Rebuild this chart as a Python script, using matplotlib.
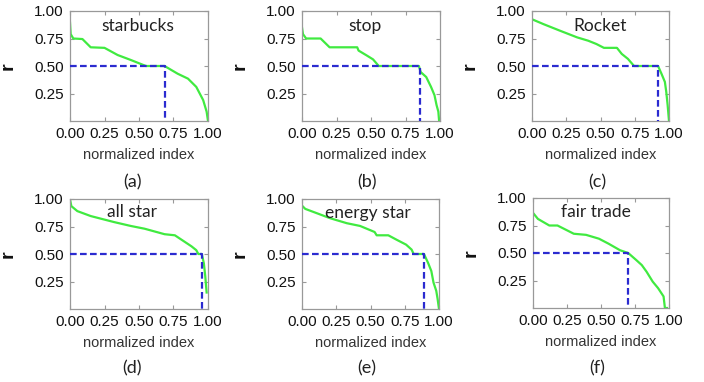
import matplotlib
matplotlib.use("Agg")
import matplotlib.pyplot as plt

plt.rcParams['font.family'] = ['Liberation Sans', 'DejaVu Sans']

# panel names and sub-labels
names = ["starbucks", "stop", "Rocket", "all star", "energy star", "fair trade"]
letters = ["(a)", "(b)", "(c)", "(d)", "(e)", "(f)"]

# green curves (normalized index, r)
x_a = [0, 0.005, 0.024, 0.09, 0.15, 0.25, 0.345, 0.44, 0.55, 0.685, 0.78, 0.855, 0.915, 0.965, 0.99, 1.0]
y_a = [0.895, 0.79, 0.75, 0.745, 0.67, 0.665, 0.60, 0.555, 0.50, 0.50, 0.43, 0.385, 0.31, 0.19, 0.085, 0.0]

x_b = [0, 0.007, 0.03, 0.135, 0.20, 0.40, 0.41, 0.47, 0.515, 0.556, 0.847, 0.86, 0.90, 0.935, 0.96, 0.975, 0.988, 0.993]
y_b = [0.85, 0.79, 0.75, 0.75, 0.67, 0.67, 0.64, 0.595, 0.56, 0.50, 0.50, 0.445, 0.40, 0.31, 0.235, 0.145, 0.085, 0.01]

x_c = [0, 0.085, 0.206, 0.33, 0.41, 0.47, 0.525, 0.62, 0.655, 0.70, 0.745, 0.92, 0.945, 0.97, 0.98, 0.99, 1.0]
y_c = [0.925, 0.88, 0.82, 0.76, 0.73, 0.70, 0.665, 0.665, 0.61, 0.565, 0.50, 0.50, 0.43, 0.355, 0.265, 0.145, 0.0]

x_d = [0, 0.01, 0.053, 0.15, 0.32, 0.44, 0.54, 0.685, 0.76, 0.82, 0.88, 0.915, 0.93, 0.955, 0.97, 0.98, 0.99]
y_d = [0.995, 0.935, 0.89, 0.845, 0.79, 0.755, 0.73, 0.68, 0.67, 0.62, 0.57, 0.535, 0.50, 0.50, 0.415, 0.30, 0.15]

x_e = [0, 0.024, 0.11, 0.206, 0.327, 0.424, 0.53, 0.545, 0.63, 0.69, 0.76, 0.80, 0.815, 0.89, 0.92, 0.944, 0.96, 0.98, 0.99, 1.0]
y_e = [0.94, 0.91, 0.87, 0.825, 0.78, 0.755, 0.70, 0.67, 0.67, 0.63, 0.585, 0.54, 0.50, 0.50, 0.42, 0.345, 0.24, 0.165, 0.09, 0.0]

x_f = [0, 0.036, 0.12, 0.18, 0.30, 0.39, 0.485, 0.555, 0.64, 0.70, 0.76, 0.80, 0.835, 0.88, 0.92, 0.96, 0.97, 0.985]
y_f = [0.865, 0.81, 0.75, 0.75, 0.675, 0.665, 0.63, 0.585, 0.525, 0.50, 0.435, 0.39, 0.33, 0.24, 0.18, 0.105, 0.0, 0.0]

curves_x = [x_a, x_b, x_c, x_d, x_e, x_f]
curves_y = [y_a, y_b, y_c, y_d, y_e, y_f]

# where r drops to 0.5 (blue dashed guide)
cut_x = [0.69, 0.855, 0.92, 0.956, 0.89, 0.70]
cut_r = 0.5

# text positions inside each axes
name_pos = [(0.49, 0.866), (0.454, 0.866), (0.50, 0.866), (0.447, 0.88), (0.48, 0.873), (0.46, 0.873)]

W, H = 704, 382
fig = plt.figure(figsize=(W / 100, H / 100), dpi=100)

# axes boxes in pixels: left, top, right, bottom
boxes = [(70, 11, 208, 121), (302, 11, 440, 121), (532, 11, 669, 121),
         (70, 199, 208, 309), (302, 199, 439, 309), (533, 198, 669, 308)]
letter_x = [132, 367, 597, 132, 367, 597]

for i in range(6):
    l, t, r, b = boxes[i]
    ax = fig.add_axes([l / W, 1 - b / H, (r - l) / W, (b - t) / H])
    ax.plot(curves_x[i], curves_y[i], color='#40ea40', lw=1.6, zorder=2)
    ax.plot([0, cut_x[i], cut_x[i]], [cut_r, cut_r, 0], color='#2b2bd0', lw=1.6,
            ls=(0, (3, 1.5)), zorder=3)
    ax.set_xlim(0, 1)
    ax.set_ylim(0, 1)
    ax.set_xticks([0, 0.25, 0.5, 0.75, 1.0])
    ax.set_yticks([0.25, 0.5, 0.75, 1.0])
    ax.set_xticklabels(["0.00", "0.25", "0.50", "0.75", "1.00"])
    ax.set_yticklabels(["0.25", "0.50", "0.75", "1.00"])
    ax.tick_params(direction='in', length=3, width=0.8, color='#999999',
                   top=True, right=True, labelsize=11, labelcolor='#111111', pad=4.5)
    for s in ax.spines.values():
        s.set_color('#999999')
        s.set_linewidth(0.9)
    ax.set_xlabel("normalized index", fontsize=10.5, color='#333333', labelpad=5)
    ax.set_ylabel("r", fontsize=14, fontweight='bold', color='#111111')
    ax.yaxis.set_label_coords(-53 / (r - l), 0.5)
    ax.text(name_pos[i][0], name_pos[i][1], names[i], transform=ax.transAxes,
            ha='center', va='center', fontsize=12.5, family=['Lato', 'DejaVu Sans'],
            color='#222222')
    ly = 182 if i < 3 else 368
    fig.text(letter_x[i] / W, 1 - ly / H, letters[i], ha='center', va='center',
             fontsize=13, family=['Lato', 'DejaVu Sans'], color='#222222')

fig.savefig("out.png", dpi=100)
